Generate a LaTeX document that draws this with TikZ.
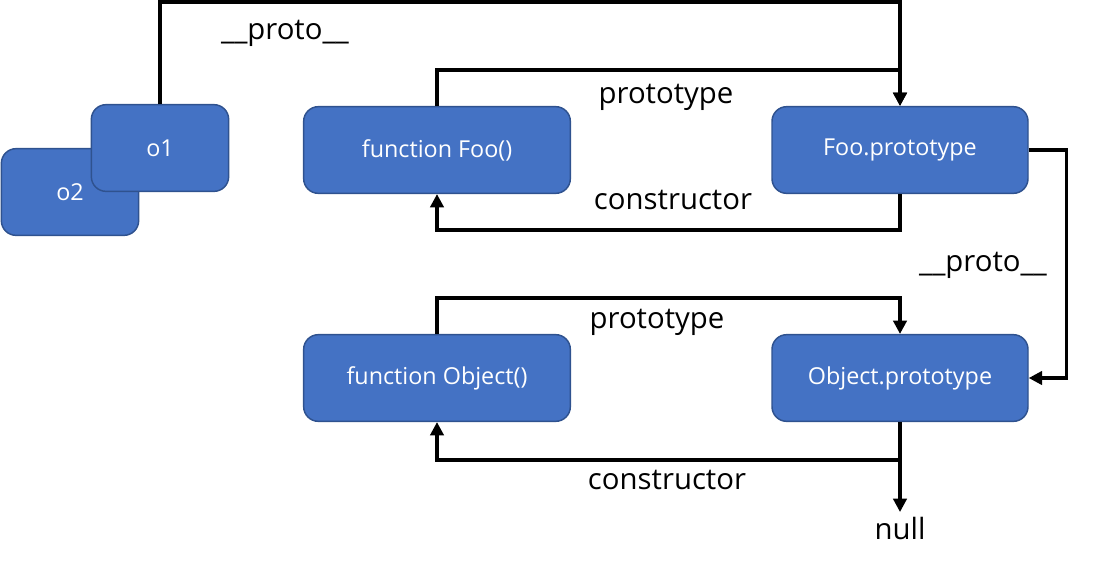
\documentclass[tikz,border=0pt]{standalone}
\usepackage{fontspec}
\setmainfont{Open Sans}
\usepackage{tikz}
\usepackage{xcolor}
\usetikzlibrary{arrows.meta}

\definecolor{boxfill}{HTML}{4472C4}
\definecolor{boxline}{HTML}{2F528F}

\begin{document}
\begin{tikzpicture}[x=0.75pt, y=-0.75pt,
    box/.style = {shape=rectangle, rounded corners=11pt,
      draw=boxline, fill=boxfill, line width=1.1pt,
      align=center, text=white, minimum height=65pt,
      font=\fontsize{17.5}{20}\selectfont},
    link/.style = {line width=2.4pt,
      -{Triangle[length=10pt,width=10pt]}},
    lbl/.style = {font=\fontsize{22}{26}\selectfont}]
    \useasboundingbox (0,0) rectangle (1106,569);
    % objects
    \node[box, minimum width=103pt] (o2) at (70,192) {o2};
    \node[box, minimum width=103pt] (o1) at (160,148) {o1};
    % constructors and prototypes
    \node[box, minimum width=200pt] (foo) at (437,150) {function Foo()};
    \node[box, minimum width=192pt] (fooproto) at (900,150) {Foo.prototype};
    \node[box, minimum width=200pt] (obj) at (437,378) {function Object()};
    \node[box, minimum width=192pt] (objproto) at (900,378) {Object.prototype};
    \node[lbl] (null) at (900,528) {null};
    % links
    \draw[link] (o1.north) -- ++(0,-102) -| (fooproto.north);
    \draw[link] (foo.north) -- ++(0,-36) -| (fooproto.north);
    \draw[link] (fooproto.south) -- ++(0,36) -| (foo.south);
    \draw[link] (fooproto.east) -- ++(38,0) |- (objproto.east);
    \draw[link] (obj.north) -- ++(0,-36) -| (objproto.north);
    \draw[link] (objproto.south) -- ++(0,38) -| (obj.south);
    \draw[link] (objproto.south) -- (null.north);
    % labels
    \node[lbl] (proto1) at (285,33) {\_\_proto\_\_};
    \node[lbl] (ptype1) at (666,97) {prototype};
    \node[lbl] (ctor1) at (673,200) {constructor};
    \node[lbl] (proto2) at (983,265) {\_\_proto\_\_};
    \node[lbl] (ptype2) at (657,322) {prototype};
    \node[lbl] (ctor2) at (667,480) {constructor};
\end{tikzpicture}
\end{document}
